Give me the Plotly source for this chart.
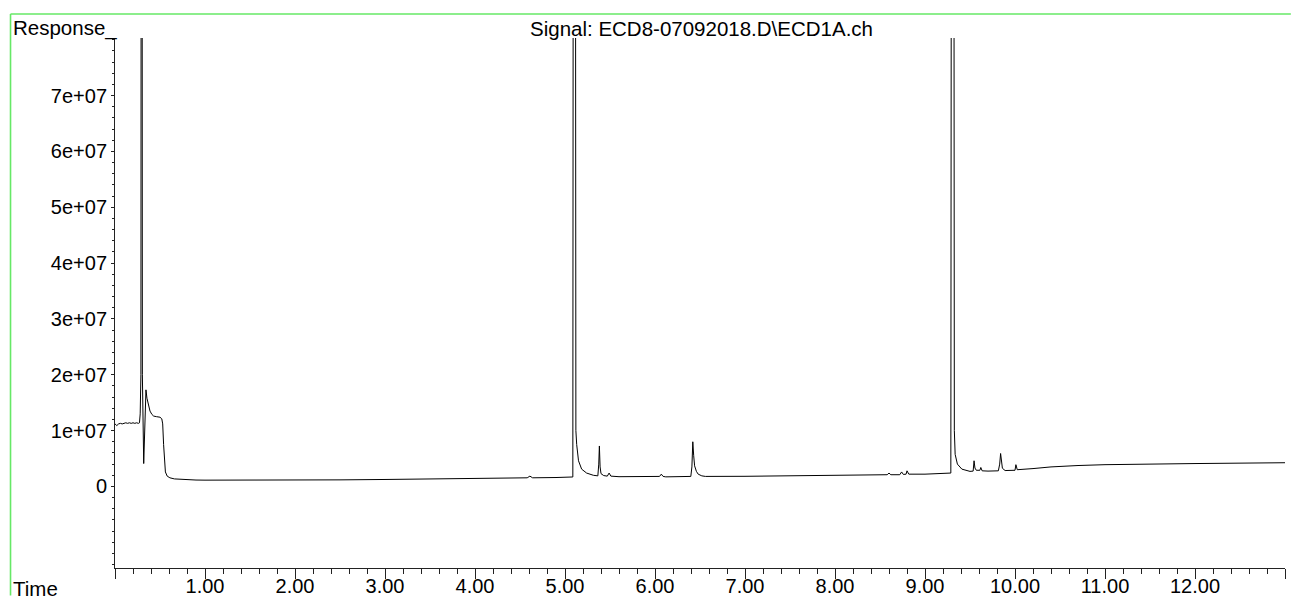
import plotly.graph_objects as go

# Chromatogram vertices (time in min, response)
time = [
    0.00, 0.02, 0.04, 0.06, 0.08, 0.10, 0.12, 0.14, 0.16, 0.18, 0.20, 0.22, 0.24, 0.26, 0.272,
    0.280, 0.288, 0.296, 0.304, 0.319, 0.333, 0.344, 0.355, 0.370, 0.389, 0.410, 0.430, 0.460, 0.500,
    0.520, 0.530, 0.540, 0.550, 0.560, 0.580, 0.610, 0.660, 0.740, 0.900,
    1.00, 1.50, 2.00, 2.50, 3.00, 3.50, 4.00, 4.30, 4.58, 4.61, 4.64, 4.90, 5.00, 5.087,
    5.103, 5.121, 5.130, 5.150, 5.185, 5.240, 5.315, 5.365, 5.375, 5.382, 5.390, 5.400, 5.430,
    5.470, 5.490, 5.510, 5.600, 6.000, 6.050, 6.070, 6.090, 6.120, 6.380, 6.398, 6.410, 6.420,
    6.430, 6.440, 6.460, 6.480, 6.520, 6.560, 7.00, 7.50, 8.00, 8.50, 8.58, 8.60, 8.62, 8.72,
    8.74, 8.76, 8.79, 8.80, 8.82, 9.00, 9.20, 9.287, 9.308, 9.326, 9.335, 9.360, 9.410, 9.500,
    9.535, 9.545, 9.555, 9.570, 9.610, 9.620, 9.635, 9.700, 9.815, 9.830, 9.840, 9.850, 9.860,
    9.890, 10.00, 10.01, 10.025, 10.20, 10.40, 10.70, 11.00, 12.00, 13.00,
]
response = [
    1.12e7, 1.09e7, 1.12e7, 1.13e7, 1.12e7, 1.13e7, 1.14e7, 1.13e7, 1.14e7, 1.13e7, 1.14e7, 1.13e7, 1.14e7, 1.13e7, 1.14e7,
    1.3e7, 2.0e7, 3.0e8, 2.0e7, 4.1e6, 1.2e7, 1.73e7, 1.58e7, 1.45e7, 1.35e7, 1.29e7, 1.26e7, 1.25e7, 1.24e7,
    1.21e7, 1.12e7, 7.5e6, 4.0e6, 2.6e6, 1.85e6, 1.55e6, 1.35e6, 1.25e6, 1.15e6,
    1.13e6, 1.12e6, 1.15e6, 1.18e6, 1.25e6, 1.32e6, 1.42e6, 1.5e6, 1.55e6, 1.85e6, 1.55e6, 1.6e6, 1.62e6, 1.7e6,
    4.0e8, 1.0e7, 7.5e6, 4.6e6, 3.1e6, 2.4e6, 2.0e6, 1.9e6, 4.0e6, 7.25e6, 3.5e6, 2.3e6, 1.95e6,
    1.85e6, 2.4e6, 1.85e6, 1.75e6, 1.75e6, 1.8e6, 2.2e6, 1.8e6, 1.72e6, 1.75e6, 1.8e6, 3.5e6, 8.0e6,
    5.5e6, 3.7e6, 2.7e6, 2.2e6, 1.9e6, 1.8e6, 1.82e6, 1.9e6, 1.98e6, 2.05e6, 2.1e6, 2.4e6, 2.1e6, 2.1e6,
    2.6e6, 2.15e6, 2.2e6, 2.8e6, 2.2e6, 2.2e6, 2.3e6, 2.4e6, 4.0e8, 1.0e7, 5.75e6, 4.0e6, 3.1e6, 2.7e6,
    2.75e6, 4.6e6, 3.3e6, 2.9e6, 2.9e6, 3.4e6, 2.8e6, 2.75e6, 2.8e6, 4.0e6, 5.9e6, 4.0e6, 3.26e6,
    2.85e6, 2.9e6, 3.9e6, 3.0e6, 3.2e6, 3.5e6, 3.75e6, 3.9e6, 4.1e6, 4.25e6,
]

x_tick_vals = list(range(0, 14))
x_tick_text = [""] + [f"{v}.00" for v in range(1, 13)] + [""]
y_tick_vals = [0, 1e7, 2e7, 3e7, 4e7, 5e7, 6e7, 7e7]
y_tick_text = ["0", "1e+07", "2e+07", "3e+07", "4e+07", "5e+07", "6e+07", "7e+07"]

FONT = "Liberation Sans, Arial, sans-serif"
FS = 20
FS_T = 20.5

fig = go.Figure()
fig.add_trace(go.Scatter(x=time, y=response, mode="lines",
                         line=dict(color="black", width=1), hoverinfo="skip"))

axis_col = "#222222"
fig.update_layout(
    width=1291, height=603,
    margin=dict(l=115, r=6, t=38, b=28),
    paper_bgcolor="white", plot_bgcolor="white",
    showlegend=False,
    font=dict(family=FONT, size=FS, color="black"),
    xaxis=dict(range=[0, 13], tickmode="array", tickvals=x_tick_vals, ticktext=x_tick_text,
               ticks="outside", ticklen=10, tickwidth=1, tickcolor=axis_col,
               ticklabelstandoff=-10,
               showline=True, linecolor=axis_col, linewidth=1, showgrid=False, zeroline=False,
               tickfont=dict(family=FONT, size=FS),
               minor=dict(tickmode="linear", tick0=0, dtick=0.2, ticks="outside", ticklen=5,
                          tickwidth=1, tickcolor=axis_col, showgrid=False)),
    yaxis=dict(range=[-1.46e7, 8.03e7], tickmode="array", tickvals=y_tick_vals, ticktext=y_tick_text,
               ticks="outside", ticklen=3, tickwidth=1, tickcolor=axis_col,
               showline=True, linecolor=axis_col, linewidth=1, showgrid=False, zeroline=False,
               tickfont=dict(family=FONT, size=FS),
               minor=dict(tickmode="linear", tick0=0, dtick=2e6, ticks="outside", ticklen=2,
                          tickwidth=1, tickcolor=axis_col, showgrid=False)),
)

fig.add_annotation(text="Response_", xref="paper", yref="paper", x=-0.0885, y=1.0181,
                   xanchor="left", yanchor="middle", showarrow=False, font=dict(size=FS_T))
fig.add_annotation(text="Time", xref="paper", yref="paper", x=-0.0885, y=-0.0391,
                   xanchor="left", yanchor="middle", showarrow=False, font=dict(size=FS_T))
fig.add_annotation(text="Signal: ECD8-07092018.D\\ECD1A.ch", xref="paper", yref="paper",
                   x=0.5017, y=1.0181, xanchor="center", yanchor="middle", showarrow=False,
                   font=dict(size=FS_T))

green = "#66e866"
fig.add_shape(type="line", xref="paper", yref="paper", x0=-0.0893, x1=1.005, y0=1.0452, y1=1.0452,
              line=dict(color=green, width=1.6))
fig.add_shape(type="line", xref="paper", yref="paper", x0=-0.0893, x1=-0.0893, y0=1.0452, y1=-0.0521,
              line=dict(color=green, width=1.6))

fig.write_html(
    "out.html", config={"displayModeBar": False},
    post_script=("document.documentElement.style.overflow='hidden';"
                 "document.body.style.margin='0';document.body.style.overflow='hidden';"
                 "var d=document.getElementById('{plot_id}');d.style.overflow='hidden';"
                 "d.style.height='603px';d.style.width='1291px';"
                 "d.parentElement.style.overflow='hidden';d.parentElement.style.height='603px';"),
)
